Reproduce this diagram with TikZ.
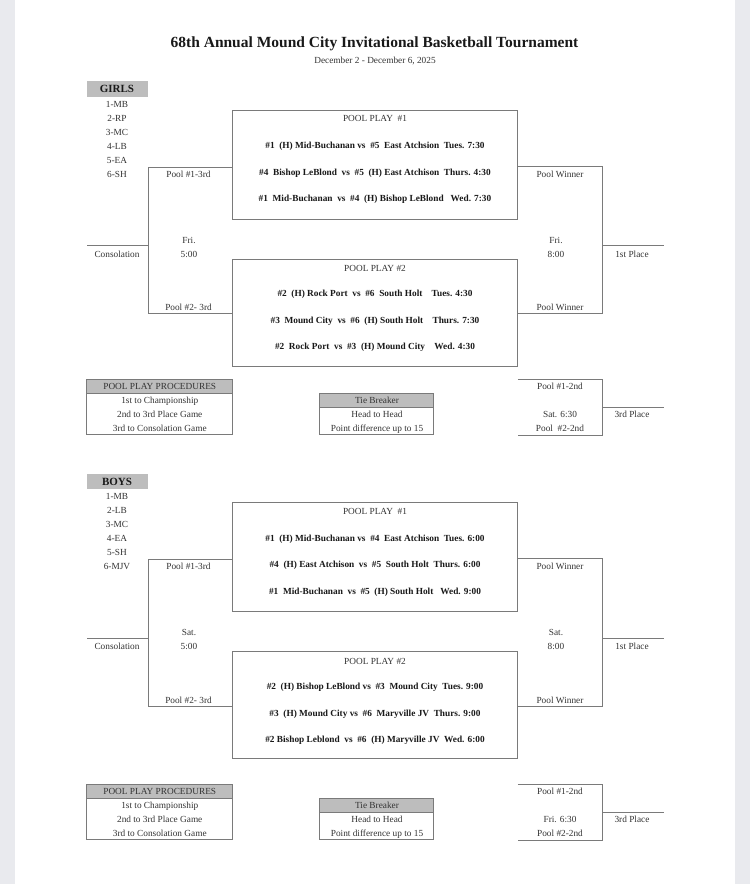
\documentclass[tikz,border=0pt]{standalone}
\usepackage{fontspec}
\setmainfont{Liberation Serif}
\definecolor{pagegray}{HTML}{E9EAEE}
\definecolor{rulegray}{HTML}{7A7A7A}
\definecolor{hdrgray}{HTML}{BDBDBD}
\definecolor{inkgray}{HTML}{333333}
\tikzset{
  lbl/.style={inner sep=0pt, text=inkgray, font=\fontsize{9.3}{11}\selectfont},
  game/.style={inner sep=0pt, text=black!90, font=\fontsize{9.3}{11}\selectfont\bfseries},
  poolbox/.style={draw=rulegray, line width=0.8pt, minimum width=285pt, inner sep=0pt},
  hdrbox/.style={fill=hdrgray, inner sep=0pt, text=inkgray, font=\fontsize{9.3}{11}\selectfont},
  sexbox/.style={fill=hdrgray, inner sep=0pt, minimum width=61pt, minimum height=15.5pt, text=black!90, font=\fontsize{11}{13}\selectfont\bfseries},
  bracket/.style={draw=rulegray, line width=0.8pt},
}
\begin{document}
\begin{tikzpicture}[x=1pt,y=1pt,yscale=-1,xscale=1]
\useasboundingbox (0,0) rectangle (750,884);
%page
\fill[pagegray] (0,0) rectangle (750,884);
\fill[white] (15,0) rectangle (735,884);

%title
\node[font=\fontsize{15.5}{18}\selectfont\bfseries, inner sep=0pt, text=black!90] (title) at (374.5,44) {68th Annual Mound City Invitational Basketball Tournament};
\node[lbl] (dates) at (375,61) {December 2 - December 6, 2025};

%%%%%%%%%%%%%%%% GIRLS
\begin{scope}
%seeds
\node[sexbox] (gsex) at (117,89) {GIRLS};
\foreach \s [count=\i] in {1-MB,2-RP,3-MC,4-LB,5-EA,6-SH}
  \node[lbl] (gseed\i) at (117,90+14*\i) {\s};

%pool play boxes
\node[poolbox, minimum height=109pt] (gpool1) at (375,164.5) {};
\node[poolbox, minimum height=107pt] (gpool2) at (375,312.5) {};
\node[lbl] (gp1h) at (375,118.5) {POOL PLAY~ \#1};
\node[game] (gp1a) at (375,146.5) {\#1~ (H) Mid-Buchanan vs~ \#5~ East Atchsion~ Tues. 7:30};
\node[game] (gp1b) at (375,173) {\#4~ Bishop LeBlond~ vs~ \#5~ (H) East Atchison~ Thurs. 4:30};
\node[game] (gp1c) at (375,199.5) {\#1~ Mid-Buchanan~ vs~ \#4~ (H) Bishop LeBlond~~ Wed. 7:30};
\node[lbl] (gp2h) at (375,268.5) {POOL PLAY \#2};
\node[game] (gp2a) at (375,294.5) {\#2~ (H) Rock Port~ vs~ \#6~ South Holt~~~ Tues. 4:30};
\node[game] (gp2b) at (375,321.5) {\#3~ Mound City~ vs~ \#6~ (H) South Holt~~~ Thurs. 7:30};
\node[game] (gp2c) at (375,347.5) {\#2~ Rock Port~ vs~ \#3~ (H) Mound City~~~ Wed. 4:30};

%consolation bracket
\coordinate (gl1) at (148,167);
\coordinate (gl2) at (148,313.5);
\coordinate (gcons) at (87,245.5);
\draw[bracket] (gpool1.west |- gl1) -- (gl1) -- (gl2) -- (gpool2.west |- gl2);
\draw[bracket] (gcons) -- (gl1 |- gcons);
\node[lbl] (gl1t) at (188.5,174) {Pool \#1-3rd};
\node[lbl] (gl2t) at (188.5,307.5) {Pool \#2- 3rd};
\node[lbl] (gconsd) at (189,240) {Fri.};
\node[lbl] (gconst) at (189,254) {5:00};
\node[lbl] (gconsl) at (117,254) {Consolation};

%championship bracket
\coordinate (gr1) at (602.5,166);
\coordinate (gr2) at (602.5,313.5);
\coordinate (gfirst) at (663.5,245.5);
\draw[bracket] (gpool1.east |- gr1) -- (gr1) -- (gr2) -- (gpool2.east |- gr2);
\draw[bracket] (gr1 |- gfirst) -- (gfirst);
\node[lbl] (gr1t) at (560,174) {Pool Winner};
\node[lbl] (gr2t) at (560,307.5) {Pool Winner};
\node[lbl] (gchampd) at (556,240) {Fri.};
\node[lbl] (gchampt) at (556,254) {8:00};
\node[lbl] (gfirstl) at (632,254) {1st Place};

%procedures
\node[hdrbox, minimum width=145.5pt, minimum height=14pt] (gproc) at (159.75,386.3) {POOL PLAY PROCEDURES};
\draw[bracket] (gproc.north west) rectangle ++(145.5,55.7);
\draw[bracket] (gproc.south west) -- (gproc.south east);
\node[lbl] (gproc1) at (159.75,400.8) {1st to Championship};
\node[lbl] (gproc2) at (159.75,414.8) {2nd to 3rd Place Game};
\node[lbl] (gproc3) at (159.75,428.8) {3rd to Consolation Game};

%tie breaker
\node[hdrbox, minimum width=114pt, minimum height=14pt] (gtie) at (377,400.3) {Tie Breaker};
\draw[bracket] (gtie.north west) rectangle ++(114,41.7);
\draw[bracket] (gtie.south west) -- (gtie.south east);
\node[lbl] (gtie1) at (377,414.8) {Head to Head};
\node[lbl] (gtie2) at (377,428.8) {Point difference up to 15};

%third place
\coordinate (g3a) at (602.5,379.3);
\coordinate (g3b) at (602.5,435);
\coordinate (g3rd) at (663.5,407);
\draw[bracket] (gpool2.east |- g3a) -- (g3a) -- (g3b) -- (gpool2.east |- g3b);
\draw[bracket] (g3a |- g3rd) -- (g3rd);
\node[lbl] (g3at) at (560,386.5) {Pool \#1-2nd};
\node[lbl] (g3d) at (560,414.8) {Sat. 6:30};
\node[lbl] (g3bt) at (560,428.8) {Pool~ \#2-2nd};
\node[lbl] (g3rdl) at (632,414.8) {3rd Place};
\end{scope}

%%%%%%%%%%%%%%%% BOYS
\begin{scope}[shift={(0,392.5)}]
%seeds
\node[sexbox] (bsex) at (117,89) {BOYS};
\foreach \s [count=\i] in {1-MB,2-LB,3-MC,4-EA,5-SH,6-MJV}
  \node[lbl] (bseed\i) at (117,90+14*\i) {\s};

%pool play boxes
\node[poolbox, minimum height=109pt] (bpool1) at (375,164.5) {};
\node[poolbox, minimum height=107pt] (bpool2) at (375,312.5) {};
\node[lbl] (bp1h) at (375,118.5) {POOL PLAY~ \#1};
\node[game] (bp1a) at (375,146.5) {\#1~ (H) Mid-Buchanan vs~ \#4~ East Atchison~ Tues. 6:00};
\node[game] (bp1b) at (375,173) {\#4~ (H) East Atchison~ vs~ \#5~ South Holt~ Thurs. 6:00};
\node[game] (bp1c) at (375,199.5) {\#1~ Mid-Buchanan~ vs~ \#5~ (H) South Holt~~ Wed. 9:00};
\node[lbl] (bp2h) at (375,268.5) {POOL PLAY \#2};
\node[game] (bp2a) at (375,294.5) {\#2~ (H) Bishop LeBlond vs~ \#3~ Mound City~ Tues. 9:00};
\node[game] (bp2b) at (375,321.5) {\#3~ (H) Mound City vs~ \#6~ Maryville JV~ Thurs. 9:00};
\node[game] (bp2c) at (375,347.5) {\#2 Bishop Leblond~ vs~ \#6~ (H) Maryville JV~ Wed. 6:00};

%consolation bracket
\coordinate (bl1) at (148,167);
\coordinate (bl2) at (148,313.5);
\coordinate (bcons) at (87,245.5);
\draw[bracket] (bpool1.west |- bl1) -- (bl1) -- (bl2) -- (bpool2.west |- bl2);
\draw[bracket] (bcons) -- (bl1 |- bcons);
\node[lbl] (bl1t) at (188.5,174) {Pool \#1-3rd};
\node[lbl] (bl2t) at (188.5,307.5) {Pool \#2- 3rd};
\node[lbl] (bconsd) at (189,240) {Sat.};
\node[lbl] (bconst) at (189,254) {5:00};
\node[lbl] (bconsl) at (117,254) {Consolation};

%championship bracket
\coordinate (br1) at (602.5,166);
\coordinate (br2) at (602.5,313.5);
\coordinate (bfirst) at (663.5,245.5);
\draw[bracket] (bpool1.east |- br1) -- (br1) -- (br2) -- (bpool2.east |- br2);
\draw[bracket] (br1 |- bfirst) -- (bfirst);
\node[lbl] (br1t) at (560,174) {Pool Winner};
\node[lbl] (br2t) at (560,307.5) {Pool Winner};
\node[lbl] (bchampd) at (556,240) {Sat.};
\node[lbl] (bchampt) at (556,254) {8:00};
\node[lbl] (bfirstl) at (632,254) {1st Place};

%procedures
\node[hdrbox, minimum width=145.5pt, minimum height=14pt] (bproc) at (159.75,398.8) {POOL PLAY PROCEDURES};
\draw[bracket] (bproc.north west) rectangle ++(145.5,55.7);
\draw[bracket] (bproc.south west) -- (bproc.south east);
\node[lbl] (bproc1) at (159.75,413.3) {1st to Championship};
\node[lbl] (bproc2) at (159.75,427.3) {2nd to 3rd Place Game};
\node[lbl] (bproc3) at (159.75,441.3) {3rd to Consolation Game};

%tie breaker
\node[hdrbox, minimum width=114pt, minimum height=14pt] (btie) at (377,412.8) {Tie Breaker};
\draw[bracket] (btie.north west) rectangle ++(114,41.7);
\draw[bracket] (btie.south west) -- (btie.south east);
\node[lbl] (btie1) at (377,427.3) {Head to Head};
\node[lbl] (btie2) at (377,441.3) {Point difference up to 15};

%third place
\coordinate (b3a) at (602.5,391.8);
\coordinate (b3b) at (602.5,447.5);
\coordinate (b3rd) at (663.5,419.5);
\draw[bracket] (bpool2.east |- b3a) -- (b3a) -- (b3b) -- (bpool2.east |- b3b);
\draw[bracket] (b3a |- b3rd) -- (b3rd);
\node[lbl] (b3at) at (560,399) {Pool \#1-2nd};
\node[lbl] (b3d) at (560,427.3) {Fri. 6:30};
\node[lbl] (b3bt) at (560,441.3) {Pool \#2-2nd};
\node[lbl] (b3rdl) at (632,427.3) {3rd Place};
\end{scope}
\end{tikzpicture}
\end{document}
